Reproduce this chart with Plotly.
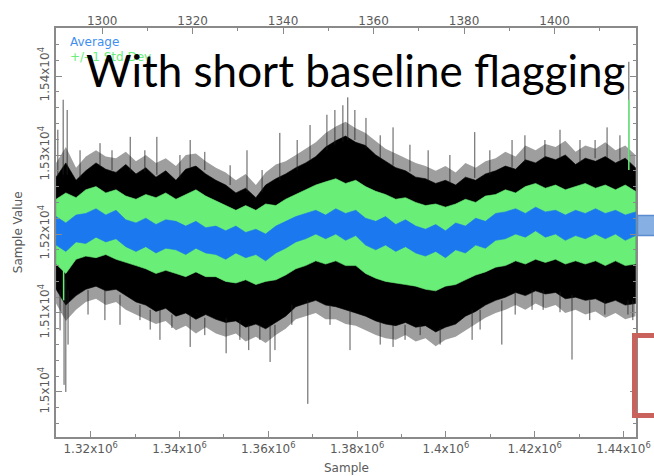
import plotly.graph_objects as go

# ---------------- data ----------------
sample = [1312200, 1314400, 1316700, 1318900, 1321200, 1323400, 1325700, 1327900,
          1330200, 1332400, 1334700, 1336900, 1339200, 1341400, 1343700, 1345900,
          1348200, 1350400, 1352700, 1354900, 1357200, 1359400, 1361700, 1363900,
          1366200, 1368400, 1370700, 1372900, 1375200, 1377400, 1379700, 1381900,
          1384200, 1386400, 1388700, 1390900, 1393200, 1395400, 1397700, 1399900,
          1402200, 1404400, 1406700, 1408900, 1411200, 1413400, 1415700, 1417900,
          1420200, 1422400, 1424700, 1426900, 1429200, 1431400, 1433700, 1435900,
          1438200, 1440400, 1442700]

# outer (sparse) and inner (dense) envelope of the raw samples
raw_outer_top = [15290, 15310, 15284, 15298, 15306, 15298, 15296, 15304, 15292, 15300,
                 15290, 15296, 15286, 15300, 15302, 15292, 15284, 15278, 15268, 15276,
                 15262, 15278, 15288, 15292, 15300, 15308, 15316, 15328, 15336, 15342,
                 15334, 15328, 15318, 15308, 15302, 15296, 15290, 15286, 15280, 15286,
                 15278, 15290, 15284, 15292, 15296, 15304, 15298, 15312, 15306, 15314,
                 15310, 15318, 15304, 15312, 15308, 15316, 15306, 15312, 15300]
raw_top = [15272, 15290, 15268, 15280, 15290, 15282, 15278, 15288, 15276, 15284,
           15272, 15280, 15268, 15282, 15286, 15276, 15268, 15262, 15252, 15258,
           15246, 15262, 15270, 15276, 15284, 15290, 15298, 15310, 15318, 15324,
           15316, 15312, 15300, 15292, 15284, 15280, 15272, 15270, 15264, 15268,
           15262, 15272, 15268, 15276, 15280, 15286, 15282, 15294, 15290, 15298,
           15294, 15300, 15288, 15296, 15292, 15298, 15290, 15296, 15284]
std_top = [15244, 15252, 15246, 15256, 15260, 15252, 15256, 15248, 15244, 15250,
           15246, 15252, 15244, 15250, 15256, 15248, 15242, 15236, 15230, 15236,
           15230, 15238, 15236, 15244, 15250, 15256, 15262, 15266, 15270, 15264,
           15268, 15260, 15254, 15250, 15244, 15246, 15240, 15236, 15238, 15234,
           15238, 15244, 15240, 15248, 15250, 15256, 15252, 15260, 15264, 15258,
           15262, 15256, 15260, 15264, 15258, 15262, 15256, 15262, 15254]
avg_top = [15222, 15214, 15224, 15226, 15232, 15224, 15230, 15218, 15214, 15220,
           15212, 15218, 15216, 15210, 15216, 15208, 15210, 15204, 15210, 15202,
           15206, 15200, 15210, 15216, 15222, 15226, 15230, 15224, 15232, 15226,
           15230, 15220, 15216, 15222, 15212, 15218, 15210, 15206, 15212, 15204,
           15214, 15210, 15220, 15216, 15226, 15228, 15232, 15226, 15234, 15228,
           15230, 15224, 15230, 15226, 15232, 15226, 15230, 15224, 15228]
avg_bot = [15186, 15178, 15190, 15188, 15196, 15190, 15194, 15184, 15178, 15184,
           15176, 15182, 15180, 15174, 15182, 15176, 15174, 15168, 15176, 15170,
           15174, 15166, 15176, 15182, 15190, 15194, 15200, 15194, 15200, 15192,
           15198, 15186, 15180, 15186, 15178, 15184, 15176, 15172, 15178, 15170,
           15180, 15176, 15186, 15182, 15192, 15194, 15200, 15196, 15204, 15196,
           15200, 15192, 15198, 15194, 15200, 15194, 15200, 15192, 15198]
std_bot = [15162, 15150, 15168, 15172, 15170, 15174, 15168, 15164, 15160, 15156,
           15150, 15154, 15150, 15146, 15152, 15146, 15146, 15140, 15138, 15142,
           15136, 15140, 15142, 15148, 15156, 15160, 15166, 15162, 15166, 15160,
           15160, 15150, 15144, 15140, 15138, 15136, 15134, 15130, 15128, 15134,
           15136, 15142, 15148, 15152, 15158, 15160, 15166, 15162, 15168, 15164,
           15168, 15162, 15166, 15162, 15166, 15160, 15166, 15160, 15162]
raw_bot = [15130, 15110, 15122, 15130, 15134, 15128, 15130, 15122, 15114, 15110,
           15102, 15106, 15096, 15100, 15092, 15098, 15092, 15088, 15090, 15082,
           15086, 15080, 15088, 15096, 15108, 15112, 15116, 15110, 15108, 15104,
           15100, 15096, 15090, 15086, 15084, 15088, 15082, 15084, 15076, 15082,
           15086, 15096, 15102, 15110, 15116, 15120, 15126, 15122, 15128, 15124,
           15126, 15118, 15120, 15116, 15118, 15112, 15116, 15110, 15112]
raw_outer_bot = [15112, 15090, 15104, 15114, 15118, 15110, 15114, 15104, 15098, 15092,
                 15086, 15090, 15078, 15084, 15074, 15082, 15074, 15070, 15074, 15064,
                 15070, 15062, 15072, 15080, 15092, 15096, 15100, 15092, 15092, 15086,
                 15084, 15078, 15072, 15068, 15066, 15072, 15064, 15068, 15058, 15066,
                 15070, 15078, 15086, 15094, 15100, 15104, 15110, 15104, 15112, 15106,
                 15110, 15100, 15104, 15098, 15102, 15094, 15100, 15092, 15096]

# isolated excursions of the raw samples (x, from, to)
spike_x = [1313100, 1314000, 1314400, 1314900, 1319400, 1323200, 1326600, 1331100,
           1333400, 1335600, 1338300, 1342400, 1345700, 1350500, 1353600, 1355600,
           1358100, 1360400, 1361500, 1365300, 1368900, 1373900, 1378400, 1385200,
           1388100, 1390800, 1394200, 1398700, 1405900, 1407700, 1412600, 1415600,
           1419400, 1421900, 1425700, 1428400, 1432400, 1435800, 1441000, 1442100,
           1312600, 1313800, 1314700, 1317600, 1322100, 1324800, 1328900, 1332200,
           1334900, 1340100, 1342400, 1345700, 1351400, 1355200, 1358600, 1362600,
           1366500, 1369400, 1373200, 1375000, 1376800, 1377900, 1379500, 1382000,
           1385200, 1388100, 1391900, 1396000, 1400900, 1406500, 1409900, 1414900,
           1417800, 1422300, 1425700, 1430200, 1433600, 1436300, 1439200, 1441200]
spike_from = [15129, 15142, 15142, 15129, 15129, 15129, 15123, 15110, 15104, 15104,
              15098, 15098, 15094, 15094, 15091, 15085, 15085, 15085, 15085, 15110,
              15116, 15110, 15104, 15089, 15085, 15085, 15085, 15081, 15104, 15104,
              15116, 15127, 15129, 15129, 15127, 15123, 15116, 15116, 15116, 15116,
              15275, 15275, 15275, 15271, 15287, 15281, 15279, 15279, 15275, 15271,
              15284, 15281, 15262, 15253, 15253, 15268, 15281, 15294, 15306, 15313,
              15317, 15319, 15319, 15309, 15296, 15287, 15279, 15268, 15265, 15271,
              15275, 15284, 15291, 15296, 15296, 15291, 15296, 15296, 15294, 15294]
spike_to = [15078, 15009, 15000, 15060, 15098, 15091, 15085, 15091, 15079, 15066,
            15081, 15057, 15072, 15049, 15066, 15053, 15066, 15038, 15053, 15085,
            14985, 15085, 15053, 15060, 15057, 15066, 15072, 15060, 15066, 15079,
            15060, 15098, 15104, 15104, 15101, 15041, 15091, 15098, 15098, 15091,
            15332, 15370, 15357, 15306, 15315, 15306, 15323, 15306, 15323, 15300,
            15319, 15304, 15287, 15306, 15281, 15328, 15319, 15338, 15351, 15357,
            15363, 15373, 15357, 15347, 15325, 15335, 15313, 15306, 15300, 15329,
            15306, 15319, 15325, 15319, 15332, 15319, 15319, 15335, 15325, 15418]

std_spike_x = [1313900, 1441200]
std_spike_from = [15165, 15281]
std_spike_to = [15116, 15370]

x_ticks = [1320000, 1340000, 1360000, 1380000, 1400000, 1420000, 1440000]
x_ticktext = ["1.32x10<sup>6</sup>", "1.34x10<sup>6</sup>", "1.36x10<sup>6</sup>",
              "1.38x10<sup>6</sup>", "1.4x10<sup>6</sup>", "1.42x10<sup>6</sup>",
              "1.44x10<sup>6</sup>"]
top_ticks = [1300, 1320, 1340, 1360, 1380, 1400]
y_ticks = [15000, 15100, 15200, 15300, 15400]
y_ticktext = ["1.5x10<sup>4</sup>", "1.51x10<sup>4</sup>", "1.52x10<sup>4</sup>",
              "1.53x10<sup>4</sup>", "1.54x10<sup>4</sup>"]

# ---------------- figure ----------------
BLACK = "#000000"
GREEN = "#69ee78"
BLUE = "#1b78ee"
AXC = "#8a8a8a"
TXT = "#5a5a5a"
FONT = "DejaVu Sans"


def band(top, bot, color, lw=0.6):
    return go.Scatter(x=sample + sample[::-1], y=top + bot[::-1], fill="toself",
                      fillcolor=color, mode="lines", line=dict(color=color, width=lw),
                      hoverinfo="skip")


def segments(xs, a, b):
    X, Y = [], []
    for x, y0, y1 in zip(xs, a, b):
        X += [x, x, None]
        Y += [y0, y1, None]
    return X, Y


fig = go.Figure()
fig.add_trace(band(raw_outer_top, raw_outer_bot, "rgba(0,0,0,0.38)", lw=0))
fig.add_trace(band(raw_top, raw_bot, BLACK))
sx, sy = segments(spike_x, spike_from, spike_to)
fig.add_trace(go.Scatter(x=sx, y=sy, mode="lines", line=dict(color="rgba(30,30,30,0.75)", width=1),
                         hoverinfo="skip"))
fig.add_trace(band(std_top, std_bot, GREEN))
gx, gy = segments(std_spike_x, std_spike_from, std_spike_to)
fig.add_trace(go.Scatter(x=gx, y=gy, mode="lines", line=dict(color=GREEN, width=1.5),
                         hoverinfo="skip"))
fig.add_trace(band(avg_top, avg_bot, BLUE))
# carrier for the top axis
fig.add_trace(go.Scatter(x=[1300], y=[15000], xaxis="x2", mode="markers",
                         marker=dict(opacity=0), hoverinfo="skip"))

tickfont = dict(family=FONT, size=12, color=TXT)
fig.update_layout(
    width=654, height=476,
    margin=dict(l=56, r=18, t=28, b=39, autoexpand=False),
    paper_bgcolor="white", plot_bgcolor="white",
    showlegend=False, hovermode=False,
    xaxis=dict(range=[1312185, 1442815], tickmode="array", tickvals=x_ticks,
               ticktext=x_ticktext, ticks="inside", ticklen=6, tickwidth=1.2,
               tickcolor=AXC, showline=True, linecolor=AXC, linewidth=1.5,
               mirror=True, showgrid=False, zeroline=False, tickfont=tickfont,
               automargin=False,
               minor=dict(tickmode="linear", tick0=1310000, dtick=10000, ticks="inside",
                          ticklen=3, tickcolor=AXC, showgrid=False)),
    xaxis2=dict(range=[1289.8, 1418.0], overlaying="x", side="top", anchor="y",
                tickmode="array", tickvals=top_ticks, ticks="inside", ticklen=6,
                tickwidth=1.2, tickcolor=AXC, showline=False, showgrid=False,
                zeroline=False, tickfont=tickfont, automargin=False,
                minor=dict(tickmode="linear", tick0=1290, dtick=10, ticks="inside",
                           ticklen=3, tickcolor=AXC, showgrid=False)),
    yaxis=dict(range=[14943, 15460.8], tickmode="array", tickvals=y_ticks,
               ticktext=y_ticktext, tickangle=-90, ticks="inside", ticklen=6,
               tickwidth=1.2, tickcolor=AXC, showline=True, linecolor=AXC,
               linewidth=1.5, mirror="ticks", showgrid=False, zeroline=False,
               tickfont=tickfont, automargin=False,
               minor=dict(tickmode="linear", tick0=15000, dtick=20, ticks="inside",
                          ticklen=3, tickcolor=AXC, showgrid=False)),
)

# axis titles
fig.add_annotation(text="Sample", xref="paper", yref="paper", x=0.5, y=-0.075,
                   xanchor="center", yanchor="middle", showarrow=False,
                   font=dict(family=FONT, size=12, color=TXT))
fig.add_annotation(text="Sample Value", xref="paper", yref="paper", x=-0.066, y=0.5,
                   xanchor="center", yanchor="middle", textangle=-90, showarrow=False,
                   font=dict(family=FONT, size=12, color=TXT))

# legend
fig.add_annotation(text="Average", xref="paper", yref="paper", x=0.02, y=0.966,
                   xanchor="left", yanchor="middle", showarrow=False,
                   font=dict(family=FONT, size=12, color="#3f8ff0"))
fig.add_annotation(text="+/- 1 Std Dev", xref="paper", yref="paper", x=0.02, y=0.929,
                   xanchor="left", yanchor="middle", showarrow=False,
                   font=dict(family=FONT, size=12, color=GREEN))

# overlay title
fig.add_annotation(text="With short baseline flagging", xref="paper", yref="paper",
                   x=0.517, y=0.897, xanchor="center", yanchor="middle", showarrow=False,
                   font=dict(family="Lato", size=44, color="#000000"))

# slide decorations on the right edge
fig.add_shape(type="rect", xref="paper", yref="paper",
              x0=(637.5 - 56) / 580, x1=(662 - 56) / 580,
              y0=(437 - 235.5) / 409, y1=(437 - 215.5) / 409,
              fillcolor="#86afe3", line=dict(color="#5b8ccf", width=1.5), layer="above")
fig.add_shape(type="rect", xref="paper", yref="paper",
              x0=(634.5 - 56) / 580, x1=(670 - 56) / 580,
              y0=(437 - 415.5) / 409, y1=(437 - 335.5) / 409,
              fillcolor="rgba(0,0,0,0)", line=dict(color="#c9625c", width=5), layer="above")

fig.write_html("out.html")
